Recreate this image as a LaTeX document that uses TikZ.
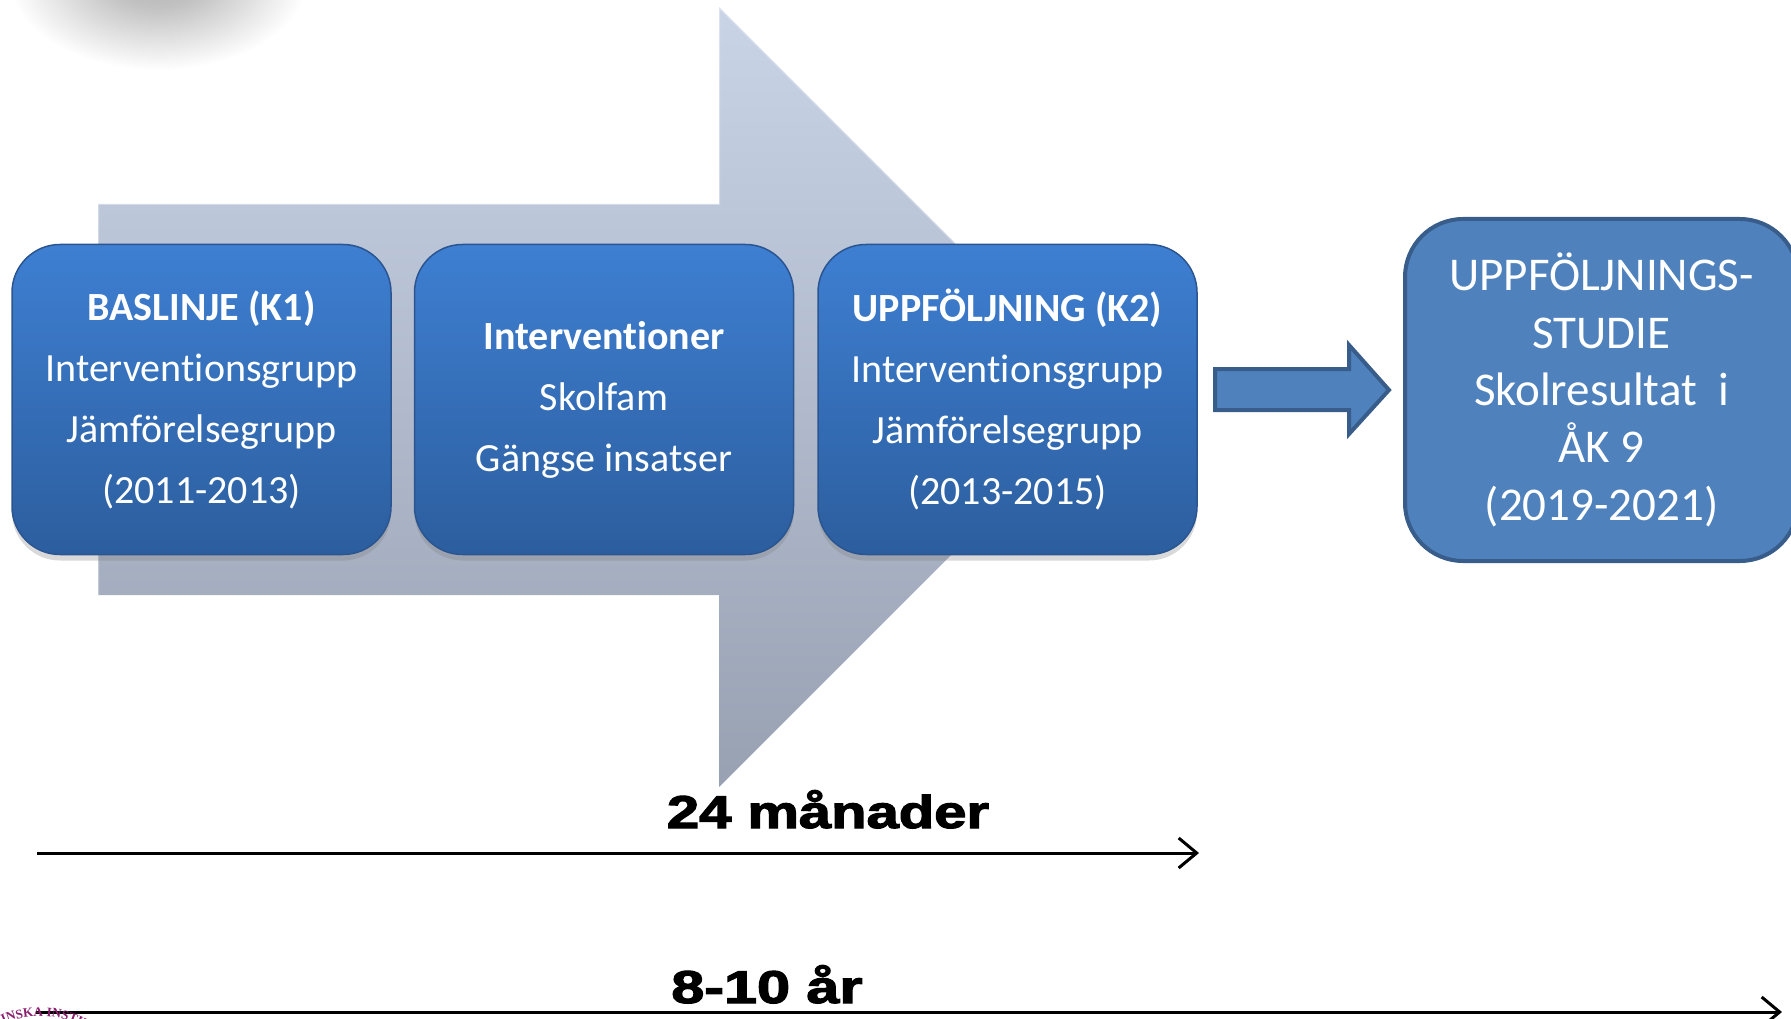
\documentclass[tikz,border=0pt]{standalone}
\usepackage{fontspec}
\setmainfont{Carlito}[Ligatures={NoCommon}]
\newfontfamily\heavyfont[FakeBold=2.4]{Liberation Sans Bold}
\newfontfamily\logofont{Liberation Serif}
\usetikzlibrary{arrows.meta,decorations.text,shadows}

\definecolor{boxtop}{HTML}{3E7FD2}
\definecolor{boxbot}{HTML}{2C5E9E}
\definecolor{boxline}{HTML}{2A5590}
\definecolor{flatblue}{HTML}{4F81BD}
\definecolor{flatline}{HTML}{385D8A}
\definecolor{bigtop}{HTML}{C9D4E7}
\definecolor{bigbot}{HTML}{98A1B2}
\definecolor{kipurple}{HTML}{8B1F6F}

\pgfdeclareradialshading{blobshade}{\pgfpoint{0bp}{0bp}}{color(0bp)=(black!30); color(8bp)=(black!24); color(25bp)=(white); color(50bp)=(white)}

\begin{document}
\begin{tikzpicture}[x=1pt,y=-1pt,
  glossbox/.style={rounded corners=48pt, minimum width=379pt, minimum height=310pt,
    top color=boxtop, bottom color=boxbot, draw=boxline, line width=1.5pt,
    text=white, align=center, font=\fontsize{40}{61}\selectfont, inner sep=0pt,
    drop shadow={shadow xshift=0pt, shadow yshift=-6pt, opacity=0.3}},
  flatbox/.style={rounded corners=58pt, minimum width=393pt, minimum height=342pt,
    fill=flatblue, draw=flatline, line width=4pt, text=white, align=center,
    font=\fontsize{47}{57.3}\selectfont, inner sep=0pt},
  timeline/.style={line width=3pt, -{Straight Barb[length=18pt,width=30pt]}},
  timelabel/.style={anchor=base, inner sep=0pt, font=\heavyfont\fontsize{46}{48}\selectfont}
]
\useasboundingbox (0,0) rectangle (1791,1019);

% soft grey shadow at top-left
\shade[shading=blobshade] (158,-22) ellipse[x radius=150, y radius=92];

% big background arrow
\shade[top color=bigtop, bottom color=bigbot]
  (98,204) -- (719,204) -- (719,7) -- (1109,397) -- (719,787) -- (719,595) -- (98,595) -- cycle;
\draw[white, opacity=0.35, line width=2pt] (98,595) -- (98,204) -- (719,204) -- (719,7) -- (1109,397);

% glossy boxes
\node[glossbox] (k1) at (201.5,399.5) {\textbf{BASLINJE (K1)}\\Interventionsgrupp\\Jämförelsegrupp\\(2011-2013)};
\node[glossbox] (int) at (604,399.5) {\textbf{Interventioner}\\Skolfam\\Gängse insatser};
\node[glossbox] (k2) at (1007.5,399.5) {\textbf{UPPFÖLJNING (K2)}\\Interventionsgrupp\\Jämförelsegrupp\\(2013-2015)};

% follow-up study box
\node[flatbox] (study) at (1601.5,390) {UPPFÖLJNINGS-\\STUDIE\\Skolresultat\ \ i\\ÅK 9\\(2019-2021)};

% block arrow between k2 and study
\filldraw[fill=flatblue, draw=flatline, line width=4pt]
  (1215,369) -- (1349,369) -- (1349,345) -- (1389,390) -- (1349,434) -- (1349,410) -- (1215,410) -- cycle;

% time lines
\coordinate (t1s) at (37,853);
\coordinate (t1e) at (1199,853);
\coordinate (t2s) at (36,1012);
\coordinate (t2e) at (1782,1012);
\draw[timeline] (t1s) -- (t1e);
\draw[timeline] (t2s) -- (t2e);
\node[timelabel] (l24) at (828,828) {\scalebox{1.26}[1]{24 månader}};
\node[timelabel] (l810) at (767,1003) {\scalebox{1.29}[1]{8-10 år}};

% partial logo text at bottom-left
\path[decorate, decoration={text along path, text align=center,
  text={|\logofont\bfseries\fontsize{13}{13}\selectfont\color{kipurple}|KAROLINSKA INSTITUTET}}]
  (-50,1106) arc[start angle=180, end angle=360, radius=90];
\end{tikzpicture}
\end{document}
